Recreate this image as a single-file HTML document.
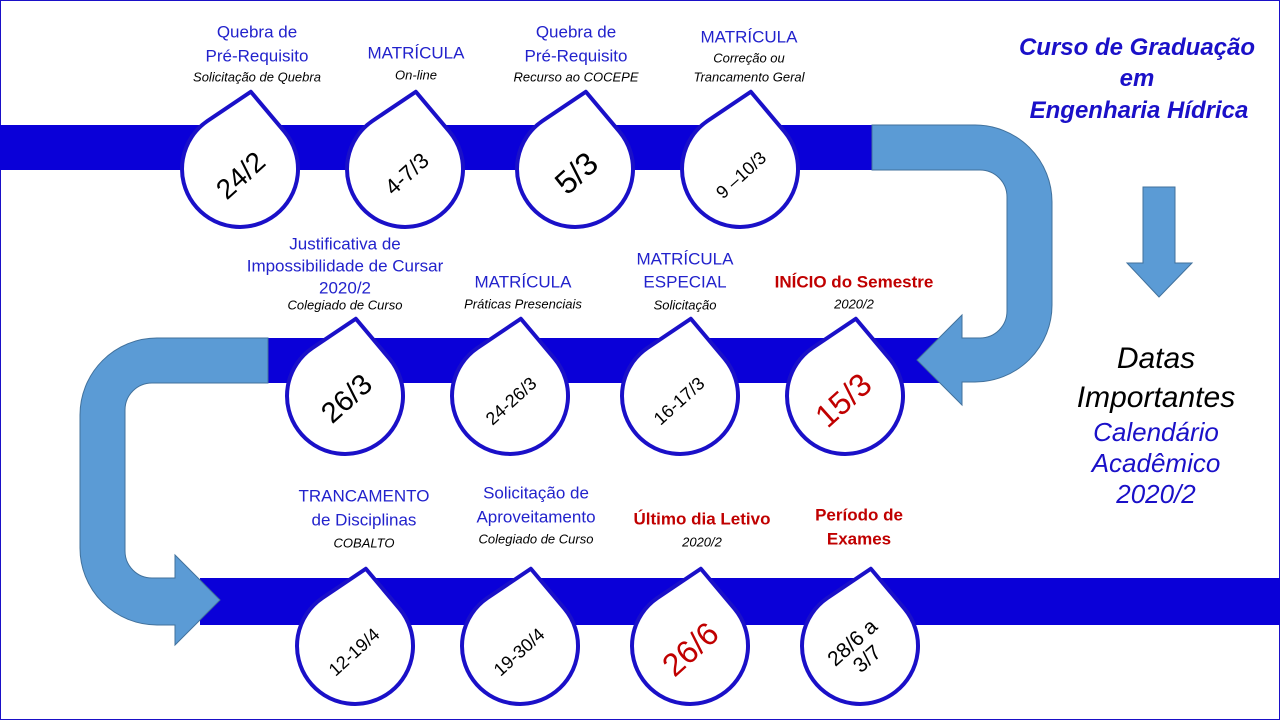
<!DOCTYPE html>
<html><head><meta charset="utf-8"><style>
html,body{margin:0;padding:0;background:#fff}
svg{display:block}
text{font-family:"Liberation Sans",sans-serif}
.l{fill:#2222cc;font-size:17px;text-anchor:middle;dominant-baseline:middle}
.s{fill:#000;font-size:13px;font-style:italic;text-anchor:middle;dominant-baseline:middle}
.r{fill:#c00000;font-size:17px;font-weight:bold;text-anchor:middle;dominant-baseline:middle}
.d{text-anchor:middle;dominant-baseline:middle;fill:#000}
</style></head><body>
<svg width="1280" height="720" viewBox="0 0 1280 720" xmlns="http://www.w3.org/2000/svg">
<defs>
<path id="drop" d="M0,-78 L39,-43 A58,58 0 1 1 -39,-43 Z" fill="#fff" stroke="#1a10c8" stroke-width="4" stroke-linejoin="round"/>
</defs>
<rect x="0.5" y="0.5" width="1279" height="719" fill="#fff" stroke="#1a10c8" stroke-width="1"/>
<rect x="0" y="125" width="874" height="45" fill="#0a00d8"/>
<rect x="268" y="338" width="672" height="45" fill="#0a00d8"/>
<rect x="200" y="578" width="1080" height="47" fill="#0a00d8"/>
<path d="M872,125 L975,125 A77,77 0 0 1 1052,202 L1052,305 A77,77 0 0 1 975,382 L962,382 L962,405 L917,360 L962,315 L962,338 L980,338 A27,27 0 0 0 1007,311 L1007,197 A27,27 0 0 0 980,170 L872,170 Z" fill="#5b9bd5" stroke="#41719c" stroke-width="1"/>
<path d="M268,338 L157,338 A77,77 0 0 0 80,415 L80,548 A77,77 0 0 0 157,625 L175,625 L175,645 L220,600 L175,555 L175,578 L152,578 A27,27 0 0 1 125,551 L125,410 A27,27 0 0 1 152,383 L268,383 Z" fill="#5b9bd5" stroke="#41719c" stroke-width="1"/>
<path d="M1143,187 L1175,187 L1175,263 L1192,263 L1159,297 L1127,263 L1143,263 Z" fill="#5b9bd5" stroke="#41719c" stroke-width="1"/>

<g transform="translate(240,169) rotate(8)"><use href="#drop"/></g>
<g transform="translate(405,169) rotate(8)"><use href="#drop"/></g>
<g transform="translate(575,169) rotate(8)"><use href="#drop"/></g>
<g transform="translate(740,169) rotate(8)"><use href="#drop"/></g>
<g transform="translate(345,396) rotate(8)"><use href="#drop"/></g>
<g transform="translate(510,396) rotate(8)"><use href="#drop"/></g>
<g transform="translate(680,396) rotate(8)"><use href="#drop"/></g>
<g transform="translate(845,396) rotate(8)"><use href="#drop"/></g>
<g transform="translate(355,646) rotate(8)"><use href="#drop"/></g>
<g transform="translate(520,646) rotate(8)"><use href="#drop"/></g>
<g transform="translate(690,646) rotate(8)"><use href="#drop"/></g>
<g transform="translate(860,646) rotate(8)"><use href="#drop"/></g>

<text class="d" font-size="28" transform="translate(242,177) rotate(-42)">24/2</text>
<text class="d" font-size="22" transform="translate(408,175) rotate(-42)">4-7/3</text>
<text class="d" font-size="32" transform="translate(578,175) rotate(-42)">5/3</text>
<text class="d" font-size="18" transform="translate(742,176) rotate(-42)">9 –10/3</text>
<text class="d" font-size="29" transform="translate(348,400) rotate(-42)">26/3</text>
<text class="d" font-size="18" transform="translate(512,402) rotate(-42)">24-26/3</text>
<text class="d" font-size="18" transform="translate(680,402) rotate(-42)">16-17/3</text>
<text class="d" font-size="32" style="fill:#c00000" transform="translate(845,402) rotate(-42)">15/3</text>
<text class="d" font-size="18" transform="translate(355,653) rotate(-42)">12-19/4</text>
<text class="d" font-size="18" transform="translate(520,653) rotate(-42)">19-30/4</text>
<text class="d" font-size="32" style="fill:#c00000" transform="translate(692,651) rotate(-42)">26/6</text>
<g transform="translate(860,651) rotate(-42)"><text class="d" font-size="21" y="-10">28/6 a</text><text class="d" font-size="21" y="12">3/7</text></g>

<text class="l" x="257" y="33">Quebra de</text><text class="l" x="257" y="57">Pré-Requisito</text><text class="s" x="257" y="78">Solicitação de Quebra</text>
<text class="l" x="416" y="54">MATRÍCULA</text><text class="s" x="416" y="76">On-line</text>
<text class="l" x="576" y="33">Quebra de</text><text class="l" x="576" y="57">Pré-Requisito</text><text class="s" x="576" y="78">Recurso ao COCEPE</text>
<text class="l" x="749" y="38">MATRÍCULA</text><text class="s" x="749" y="59">Correção ou</text><text class="s" x="749" y="78">Trancamento Geral</text>
<text class="l" x="345" y="245">Justificativa de</text><text class="l" x="345" y="267">Impossibilidade de Cursar</text><text class="l" x="345" y="289">2020/2</text><text class="s" x="345" y="306">Colegiado de Curso</text>
<text class="l" x="523" y="283">MATRÍCULA</text><text class="s" x="523" y="305">Práticas Presenciais</text>
<text class="l" x="685" y="260">MATRÍCULA</text><text class="l" x="685" y="283">ESPECIAL</text><text class="s" x="685" y="306">Solicitação</text>
<text class="r" x="854" y="283">INÍCIO do Semestre</text><text class="s" x="854" y="305">2020/2</text>
<text class="l" x="364" y="497">TRANCAMENTO</text><text class="l" x="364" y="521">de Disciplinas</text><text class="s" x="364" y="544">COBALTO</text>
<text class="l" x="536" y="494">Solicitação de</text><text class="l" x="536" y="518">Aproveitamento</text><text class="s" x="536" y="540">Colegiado de Curso</text>
<text class="r" x="702" y="520">Último dia Letivo</text><text class="s" x="702" y="543">2020/2</text>
<text class="r" x="859" y="516">Período de</text><text class="r" x="859" y="540">Exames</text>

<g font-style="italic" fill="#1a10c8" font-size="24" font-weight="600" text-anchor="middle">
<text x="1137" y="55">Curso de Graduação</text><text x="1137" y="86">em</text><text x="1139" y="118">Engenharia Hídrica</text>
</g>
<g font-style="italic" text-anchor="middle" font-size="30" fill="#000">
<text x="1156" y="368">Datas</text><text x="1156" y="407">Importantes</text>
</g>
<g font-style="italic" text-anchor="middle" font-size="26" fill="#1a10c8">
<text x="1156" y="441">Calendário</text><text x="1156" y="472">Acadêmico</text><text x="1156" y="503">2020/2</text>
</g>
</svg>
</body></html>
